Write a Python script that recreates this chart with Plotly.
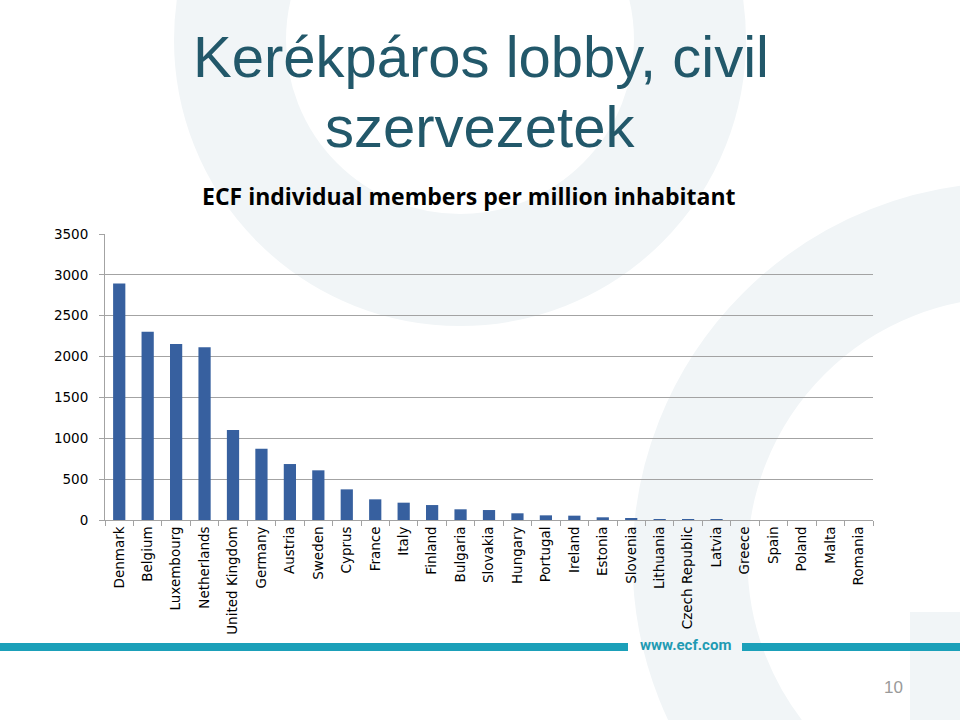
import plotly.graph_objects as go

W, H = 960, 720

countries = ["Denmark", "Belgium", "Luxembourg", "Netherlands", "United Kingdom", "Germany",
             "Austria", "Sweden", "Cyprus", "France", "Italy", "Finland", "Bulgaria",
             "Slovakia", "Hungary", "Portugal", "Ireland", "Estonia", "Slovenia",
             "Lithuania", "Czech Republic", "Latvia", "Greece", "Spain", "Poland",
             "Malta", "Romania"]
members = [2895, 2305, 2155, 2115, 1100, 873, 685, 608, 375, 253, 212, 183, 131,
           122, 82, 57, 53, 33, 16, 12, 10, 5, 0, 0, 0, 0, 0]
y_ticks = [0, 500, 1000, 1500, 2000, 2500, 3000, 3500]

slide_title_1 = "Kerékpáros lobby, civil"
slide_title_2 = "szervezetek"
chart_title = "ECF individual members per million inhabitant"
footer_url = "www.ecf.com"
page_no = "10"


def px(x):
    return x / W


def py(y):
    return 1 - y / H


fig = go.Figure()
fig.add_trace(go.Bar(
    x=countries, y=members,
    marker=dict(color="#37609f", line=dict(width=0)),
    hoverinfo="x+y",
))

GRID = "#a3a3a3"
TICKFONT = dict(family="DejaVu Sans", size=13.5, color="#000000")
fig.update_layout(
    width=W, height=H,
    margin=dict(l=0, r=0, t=0, b=0),
    paper_bgcolor="white",
    plot_bgcolor="rgba(0,0,0,0)",
    showlegend=False,
    bargap=0.57,
    xaxis=dict(
        domain=[px(105), px(873)],
        type="category",
        tickson="boundaries",
        ticks="outside", ticklen=5, tickcolor=GRID,
        showline=True, linecolor=GRID, linewidth=1,
        showgrid=False,
        tickangle=-90,
        tickfont=TICKFONT,
        automargin=False,
    ),
    yaxis=dict(
        domain=[py(520), py(234)],
        range=[0, 3500],
        tickvals=y_ticks,
        ticktext=[str(v) for v in y_ticks],
        ticks="outside", ticklen=5, tickcolor=GRID,
        showline=True, linecolor=GRID, linewidth=1,
        showgrid=True, gridcolor=GRID, gridwidth=1,
        zeroline=False,
        tickfont=TICKFONT,
        ticklabelstandoff=8,
        automargin=False,
    ),
)

# faint watermark rings of the slide template
WM = "#f1f5f7"
shapes = []


def ring(cx, cy, r, w):
    shapes.append(dict(type="circle", xref="paper", yref="paper",
                       x0=px(cx - r), x1=px(cx + r), y0=py(cy + r), y1=py(cy - r),
                       line=dict(color=WM, width=w), fillcolor="rgba(0,0,0,0)",
                       layer="below"))


ring(460, 40, 230, 112)
ring(1010, 560, 320, 115)
shapes.append(dict(type="rect", xref="paper", yref="paper",
                   x0=px(910), x1=1, y0=0, y1=py(612),
                   fillcolor=WM, line=dict(width=0), layer="below"))

# footer bar
TEAL = "#1ba0b9"
shapes.append(dict(type="rect", xref="paper", yref="paper",
                   x0=0, x1=px(628), y0=py(651), y1=py(643),
                   fillcolor=TEAL, line=dict(width=0), layer="below"))
shapes.append(dict(type="rect", xref="paper", yref="paper",
                   x0=px(742), x1=1, y0=py(651), y1=py(643),
                   fillcolor=TEAL, line=dict(width=0), layer="below"))
fig.update_layout(shapes=shapes)

TITLE_C = "#22586a"
ann = [
    dict(text=slide_title_1, x=px(481), y=py(57), font=dict(family="Liberation Sans", size=58, color=TITLE_C)),
    dict(text=slide_title_2, x=px(480), y=py(126), font=dict(family="Liberation Sans", size=58, color=TITLE_C)),
    dict(text="<b>" + chart_title + "</b>", x=px(468.5), y=py(196), font=dict(family="Open Sans", size=23, color="#000000")),
    dict(text="<b>" + footer_url + "</b>", x=px(685), y=py(645), font=dict(family="Roboto", size=15, color="#1f9bb3")),
    dict(text=page_no, x=px(893), y=py(687), font=dict(family="Liberation Sans", size=17, color="#9a9a9a")),
]
for a in ann:
    a.update(xref="paper", yref="paper", xanchor="center", yanchor="middle", showarrow=False)
fig.update_layout(annotations=ann)

fig.write_html("out.html")
